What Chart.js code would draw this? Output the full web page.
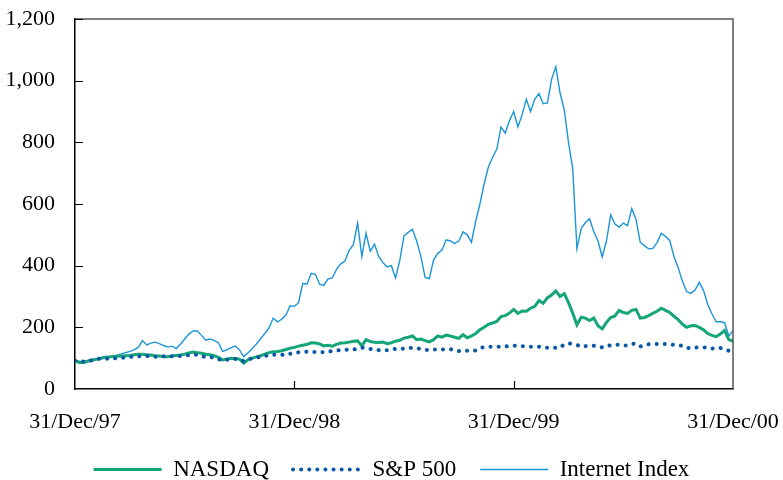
<!DOCTYPE html>
<html>
<head>
<meta charset="utf-8">
<script src="https://cdn.jsdelivr.net/npm/chart.js@4"></script>
<style>
  html, body { margin: 0; padding: 0; background: #fff; }
  #wrap { width: 783px; height: 480px; }
</style>
</head>
<body>
<div id="wrap"><canvas id="myChart" width="783" height="480"></canvas></div>
<script>
// weekly values, 31/Dec/97 = 100ish .. 31/Dec/00
const xTickLabels = ['31/Dec/97', '31/Dec/98', '31/Dec/99', '31/Dec/00'];
const seriesNames = ['NASDAQ', 'S&P 500', 'Internet Index'];

const nasdaq = [
  92, 86, 86, 90, 93, 96, 99, 103, 104, 105, 106, 107, 108, 109, 111, 113, 113, 111, 110, 108,
  107, 105, 105, 107, 109, 110, 113, 117, 120, 118, 116, 113, 111, 108, 103, 94, 97, 100, 99, 97,
  84, 95, 100, 104, 108, 113, 118, 121, 122, 124, 128, 132, 135, 139, 142, 145, 150, 149, 146, 140,
  142, 139, 145, 149, 150, 152, 155, 156, 140, 160, 154, 152, 151, 152, 147, 150, 155, 158, 165, 168,
  172, 160, 162, 157, 153, 160, 172, 168, 175, 172, 168, 164, 176, 166, 172, 180, 192, 200, 210, 214,
  219, 235, 238, 246, 258, 245, 253, 252, 262, 268, 287, 278, 296, 305, 318, 300, 309, 280, 246, 208,
  233, 230, 222, 230, 205, 195, 216, 232, 237, 255, 248, 245, 255, 258, 230, 232, 238, 245, 252, 262,
  255, 248, 236, 225, 210, 200, 205, 206, 200, 192, 180, 174, 170, 178, 190, 160, 155
];

const sp500 = [
  92, 90, 89, 91, 93, 96, 99, 98, 98, 99, 100, 101, 102, 104, 105, 106, 107, 107, 106, 105,
  105, 106, 106, 106, 107, 107, 108, 110, 112, 111, 106, 104, 103, 102, 97, 92, 95, 97, 97, 97,
  90, 93, 101, 102, 104, 107, 110, 111, 112, 111, 110, 114, 116, 119, 121, 121, 120, 120, 120, 119,
  121, 123, 125, 126, 127, 127, 128, 130, 134, 132, 130, 128, 126, 126, 126, 128, 130, 130, 131, 134,
  133, 132, 130, 127, 126, 128, 128, 128, 129, 129, 126, 123, 124, 124, 123, 125, 133, 136, 137, 137,
  137, 137, 138, 139, 141, 139, 139, 138, 137, 137, 137, 135, 134, 134, 134, 134, 145, 148, 146, 143,
  137, 139, 140, 140, 138, 135, 139, 142, 143, 144, 142, 141, 146, 147, 138, 141, 145, 146, 146, 146,
  146, 145, 143, 142, 140, 134, 132, 135, 135, 135, 134, 131, 131, 133, 129, 124, 130
];

const internet = [
  92, 90, 89, 93, 96, 98, 100, 103, 105, 107, 110, 114, 118, 122, 127, 135, 157, 143, 149, 152,
  147, 141, 136, 139, 131, 145, 162, 178, 188, 188, 174, 158, 162, 158, 150, 122, 127, 134, 139, 127,
  105, 117, 131, 146, 163, 180, 198, 230, 218, 226, 240, 270, 268, 280, 343, 340, 375, 372, 340, 336,
  357, 360, 388, 406, 415, 450, 468, 538, 430, 505, 447, 470, 430, 410, 396, 400, 360, 417, 497, 508,
  518, 480, 430, 362, 358, 418, 440, 451, 484, 480, 472, 480, 510, 500, 476, 545, 600, 665, 720, 751,
  778, 850, 830, 870, 900, 850, 889, 940, 900, 940, 958, 925, 928, 1005, 1045, 960, 905, 800, 715, 455,
  520, 540, 552, 510, 480, 428, 480, 565, 535, 525, 538, 530, 585, 550, 476, 465, 455, 456, 475, 505,
  495, 482, 430, 394, 350, 316, 310, 321, 346, 320, 275, 244, 218, 218, 215, 172, 188
];

const weeks = nasdaq.map((v, i) => i);

const frameTicks = {
  id: 'frameTicks',
  afterDatasetsDraw(chart) {
    const { ctx, chartArea: a, scales: { x, y } } = chart;
    ctx.save();
    ctx.strokeStyle = '#555';
    ctx.lineWidth = 1.5;
    ctx.beginPath();
    ctx.moveTo(a.left, a.top);
    ctx.lineTo(a.right, a.top);
    ctx.lineTo(a.right, a.bottom);
    ctx.stroke();
    ctx.strokeStyle = '#000';
    ctx.lineWidth = 1.2;
    ctx.beginPath();
    y.ticks.forEach(t => {
      if (t.value === 0) return;
      const py = Math.round(y.getPixelForValue(t.value)) + 0.5;
      ctx.moveTo(a.left, py);
      ctx.lineTo(a.left + 8, py);
    });
    x.ticks.forEach((t, i) => {
      if (i === 0 || i === x.ticks.length - 1) return;
      const px = Math.round(x.getPixelForValue(t.value)) + 0.5;
      ctx.moveTo(px, a.bottom);
      ctx.lineTo(px, a.bottom - 8);
    });
    ctx.stroke();
    ctx.restore();
  }
};

Chart.defaults.font.family = '"Liberation Serif", "Times New Roman", serif';
Chart.defaults.font.size = 22;
Chart.defaults.color = '#000';

new Chart(document.getElementById('myChart').getContext('2d'), {
  type: 'line',
  data: {
    labels: weeks,
    datasets: [
      {
        label: seriesNames[0],
        data: nasdaq,
        borderColor: '#14a578',
        backgroundColor: '#14a578',
        borderWidth: 3,
        pointRadius: 0,
        pointStyle: 'line',
        tension: 0,
        order: 1
      },
      {
        label: seriesNames[1],
        data: sp500,
        borderColor: '#0b58a6',
        backgroundColor: '#0b58a6',
        borderWidth: 4,
        borderDash: [0.1, 8],
        borderCapStyle: 'round',
        pointRadius: 0,
        pointStyle: 'line',
        tension: 0,
        order: 0
      },
      {
        label: seriesNames[2],
        data: internet,
        borderColor: '#1b95d9',
        backgroundColor: '#1b95d9',
        borderWidth: 1.4,
        pointRadius: 0,
        pointStyle: 'line',
        tension: 0,
        order: 2
      }
    ]
  },
  options: {
    responsive: false,
    animation: false,
    layout: { padding: { top: 19, right: 0, bottom: -11, left: 0 } },
    plugins: {
      tooltip: { enabled: false },
      legend: {
        position: 'bottom',
        labels: {
          usePointStyle: true,
          pointStyleWidth: 68,
          padding: 24,
          font: { size: 23 },
          sort: (a, b) => a.datasetIndex - b.datasetIndex,
          generateLabels(chart) {
            const items = Chart.defaults.plugins.legend.labels.generateLabels(chart);
            items.forEach(it => {
              const ds = chart.data.datasets[it.datasetIndex];
              it.lineDash = ds.borderDash || [];
              it.lineCap = ds.borderCapStyle || 'butt';
              it.lineWidth = ds.borderWidth;
            });
            return items;
          }
        }
      }
    },
    scales: {
      x: {
        type: 'linear',
        min: 0,
        max: 156,
        grid: { display: false, drawTicks: false },
        border: { display: true, color: '#000', width: 1.5 },
        ticks: {
          stepSize: 52,
          autoSkip: false,
          maxRotation: 0,
          padding: 20,
          callback: v => xTickLabels[v / 52]
        },
        afterFit: s => { s.height = 45; s.paddingLeft = 0; s.paddingRight = 50; }
      },
      y: {
        min: 0,
        max: 1200,
        grid: { display: false, drawTicks: false },
        border: { display: true, color: '#000', width: 1.5 },
        ticks: {
          stepSize: 200,
          padding: 20,
          callback: v => v.toLocaleString('en-US')
        },
        afterFit: s => { s.width = 75; s.paddingTop = 0; s.paddingBottom = 0; }
      }
    }
  },
  plugins: [frameTicks]
});
</script>
</body>
</html>
